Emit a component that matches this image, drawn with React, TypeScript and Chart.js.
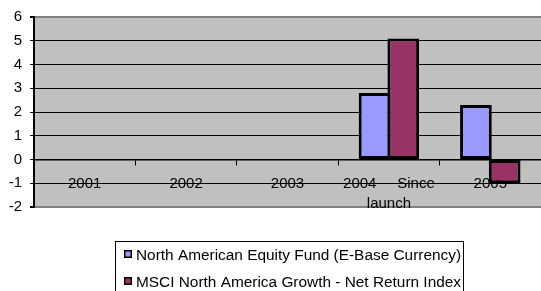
import React, { useEffect, useRef } from 'react';
import { Chart, registerables } from 'chart.js';

Chart.register(...registerables);

const categories: (string | string[])[] = ['2001', '2002', '2003', ['2004     Since', 'launch'], '2005'];
const fundLabel = 'North American Equity Fund (E-Base Currency)';
const indexLabel = 'MSCI North America Growth - Net Return Index';
const fundValues: (number | null)[] = [null, null, null, 2.8, 2.3];
const indexValues: (number | null)[] = [null, null, null, 5.1, -1.0];
const yMin = -2;
const yMax = 6;
const yStep = 1;

const FONT = '"Liberation Sans", Arial, sans-serif';

const plotBackground = {
  id: 'plotBackground',
  beforeDraw(chart: any) {
    const { ctx, chartArea } = chart;
    ctx.save();
    ctx.fillStyle = '#C0C0C0';
    ctx.fillRect(chartArea.left, chartArea.top, chartArea.right - chartArea.left, chartArea.bottom - chartArea.top);
    ctx.restore();
  },
};

const boxedLegend = {
  id: 'boxedLegend',
  afterDraw(chart: any) {
    const ctx = chart.ctx;
    ctx.save();
    ctx.strokeStyle = '#000';
    ctx.lineWidth = 1;
    ctx.strokeRect(115.5, 241.5, 348, 70);
    ctx.font = '15.4px ' + FONT;
    ctx.textAlign = 'left';
    ctx.textBaseline = 'alphabetic';
    chart.data.datasets.forEach((ds: any, i: number) => {
      const cy = 254 + i * 27;
      ctx.fillStyle = '#000';
      ctx.fillRect(124, cy - 4, 8, 8);
      ctx.fillStyle = ds.backgroundColor;
      ctx.fillRect(125.5, cy - 2.5, 5, 5);
      ctx.fillStyle = '#000';
      ctx.fillText(ds.label, 136, cy + 5.5);
    });
    ctx.restore();
  },
};

export default function App() {
  const ref = useRef<HTMLCanvasElement>(null);

  useEffect(() => {
    if (!ref.current) return;
    const isEdge = (c: any) => c.tick && (c.tick.value === yMin || c.tick.value === yMax);
    const chart = new Chart(ref.current, {
      type: 'bar',
      data: {
        labels: categories,
        datasets: [
          {
            label: fundLabel,
            data: fundValues,
            backgroundColor: '#9999FF',
            borderColor: '#000000',
            borderWidth: 3,
            borderSkipped: false,
            barPercentage: 1.103,
            categoryPercentage: 0.567,
          },
          {
            label: indexLabel,
            data: indexValues,
            backgroundColor: '#993366',
            borderColor: '#000000',
            borderWidth: 3,
            borderSkipped: false,
            barPercentage: 1.103,
            categoryPercentage: 0.567,
          },
        ],
      },
      options: {
        responsive: false,
        animation: false,
        devicePixelRatio: 1,
        layout: { padding: { left: 0, top: 15, right: -4.5, bottom: 84 } },
        plugins: { legend: { display: false }, tooltip: { enabled: false } },
        scales: {
          x: {
            position: { y: 0 } as any,
            grid: {
              display: true,
              drawOnChartArea: false,
              drawTicks: true,
              tickLength: 5,
              color: '#000',
              offset: true,
            },
            border: { display: true, color: '#000', width: 1.5 },
            ticks: {
              color: '#000',
              font: { family: FONT, size: 15, lineHeight: 20 / 15 },
              padding: 9,
              maxRotation: 0,
              minRotation: 0,
              autoSkip: false,
            },
            afterFit: (s: any) => {
              s.height = 0;
            },
          },
          y: {
            min: yMin,
            max: yMax,
            ticks: {
              stepSize: yStep,
              color: '#000',
              font: { family: FONT, size: 15 },
              padding: 8,
            },
            grid: {
              color: (c: any) => (isEdge(c) ? '#808080' : '#000'),
              lineWidth: (c: any) => (isEdge(c) ? 2 : 1),
              tickColor: '#000',
              tickLength: 4,
            },
            border: { display: true, color: '#000', width: 2 },
            afterFit: (s: any) => {
              s.width = 34;
            },
          },
        },
      },
      plugins: [plotBackground, boxedLegend],
    });
    return () => chart.destroy();
  }, []);

  return (
    <div style={{ position: 'absolute', left: 0, top: 0, width: 541, height: 291, background: '#fff' }}>
      <canvas ref={ref} width={541} height={291} style={{ display: 'block' }} />
    </div>
  );
}
